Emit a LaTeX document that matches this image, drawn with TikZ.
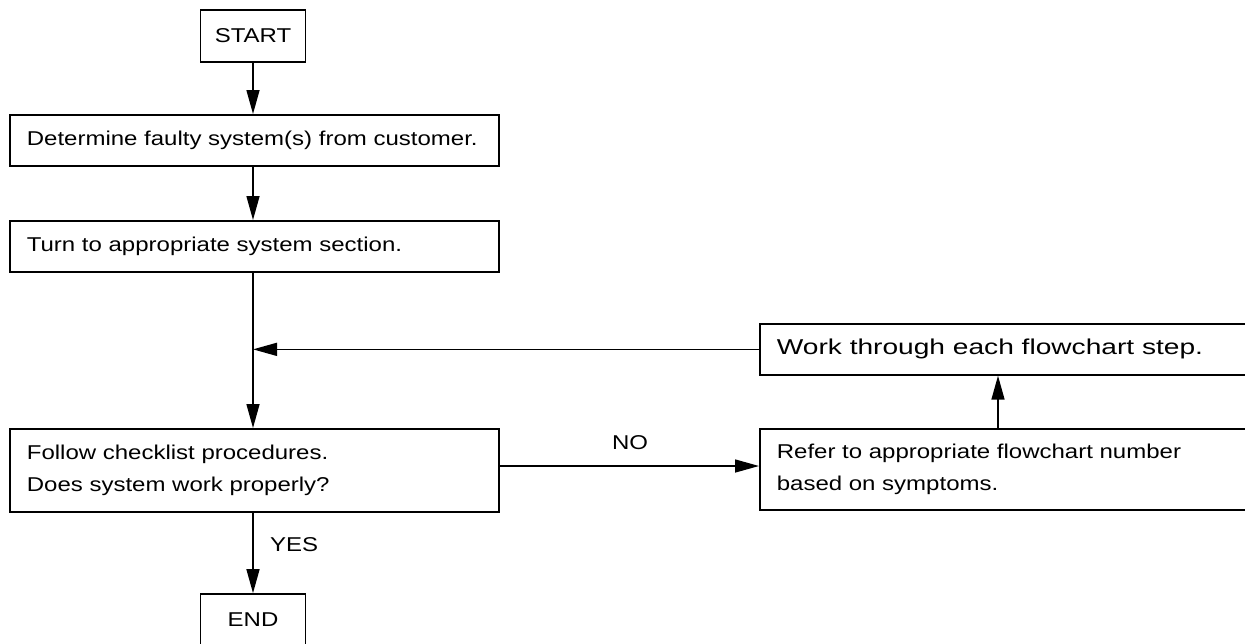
\documentclass[tikz,border=0pt]{standalone}
\usepackage{fontspec}
\usepackage{graphicx}
\setmainfont{Liberation Sans}[FakeStretch=1.2]
\usetikzlibrary{arrows.meta}
\begin{document}
\begin{tikzpicture}[x=1pt,y=-1pt,
  box/.style={draw, line width=1.7pt, rectangle, inner xsep=17pt, inner ysep=0pt,
    align=left, text width=455pt, font=\fontsize{20}{32}\selectfont},
  term/.style={draw, line width=1.7pt, rectangle, inner sep=0pt,
    minimum width=105pt, minimum height=52pt, font=\fontsize{20}{24}\selectfont},
  lbl/.style={inner sep=0pt, font=\fontsize{20}{24}\selectfont},
  arr/.style={line width=1.5pt, -{Triangle[length=24pt,width=13pt]}}]
\useasboundingbox (0,0) rectangle (1245,643);
\fill[white] (0,0) rectangle (1245,643);

\node[term] (start) at (253,36) {START};
\node[box, anchor=north west, minimum height=51pt] (det) at (9,114) {Determine faulty system(s) from customer.};
\node[box, anchor=north west, minimum height=51pt] (turn) at (9,220) {Turn to appropriate system section.};
\node[box, anchor=north west, minimum height=83pt] (follow) at (9,428) {Follow checklist procedures.\\Does system work properly?};
\node[box, anchor=north west, text width=507pt, minimum height=51pt, font=\fontsize{21.5}{26}\selectfont] (work) at (759,323) {\scalebox{1.09}[1]{Work through each flowchart step.}};
\node[box, anchor=north west, text width=507pt, minimum height=81pt] (refer) at (759,428) {Refer to appropriate flowchart number\\based on symptoms.};
\node[term] (end) at (253,620) {END};

\node[lbl, anchor=west] (yes) at (270,545) {YES};
\node[lbl] (no) at (630,443) {NO};

\coordinate (j) at (253,350);
\coordinate (upx) at (998,0);
\coordinate (noy) at (0,466);

\draw[arr] (start.south) -- (start.south |- det.north);
\draw[arr] (det.south -| start) -- (turn.north -| start);
\draw[arr] (turn.south -| start) -- (follow.north -| start);
\draw[arr] (work.west) -- (work.west -| j);
\draw[arr] (follow.south -| start) -- (end.north);
\draw[arr] (follow.east |- noy) -- (refer.west |- noy);
\draw[arr] (refer.north -| upx) -- (work.south -| upx);
\end{tikzpicture}
\end{document}
